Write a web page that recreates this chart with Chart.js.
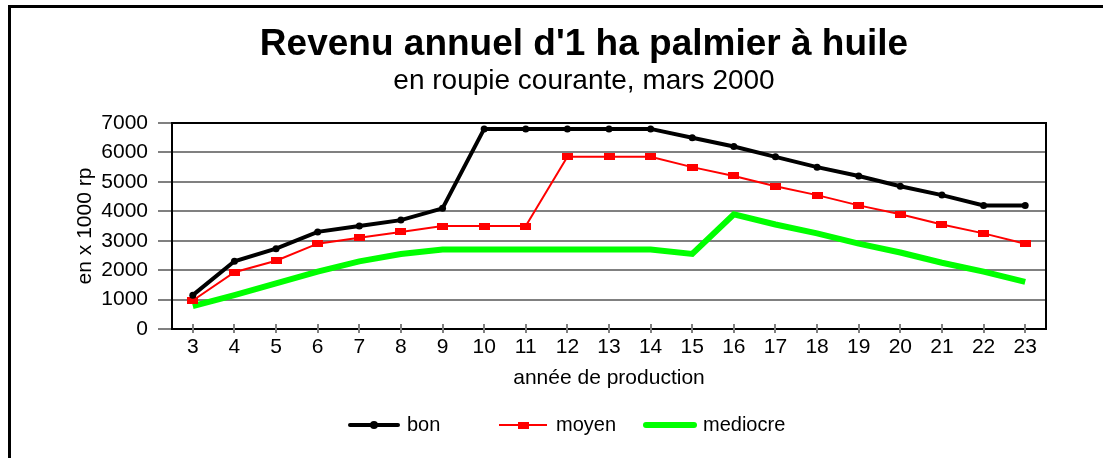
<!DOCTYPE html>
<html>
<head>
<meta charset="utf-8">
<script src="https://cdn.jsdelivr.net/npm/chart.js@4"></script>
<style>
  html, body { margin: 0; padding: 0; background: #fff; }
  #cadre {
    position: absolute; left: 8px; top: 5px; width: 1095px; height: 453px;
    border-left: 3px solid #000; border-top: 3px solid #000; box-sizing: border-box;
  }
  #revenu { position: absolute; left: 0; top: 0; }
</style>
</head>
<body>
<div id="cadre"></div>
<canvas id="revenu" width="1103" height="458"></canvas>
<script>
// années de production (axe X)
const annees = ["3", "4", "5", "6", "7", "8", "9", "10", "11", "12", "13",
  "14", "15", "16", "17", "18", "19", "20", "21", "22", "23"];

// revenu en x 1000 rp
const bon = [1150, 2300, 2730, 3300, 3500, 3700, 4100, 6800, 6800, 6800, 6800,
  6800, 6500, 6200, 5850, 5500, 5200, 4850, 4550, 4200, 4200];
const moyen = [970, 1930, 2320, 2900, 3100, 3300, 3500, 3500, 3500, 5850, 5850,
  5850, 5500, 5200, 4850, 4550, 4200, 3900, 3550, 3250, 2900];
const mediocre = [780, 1150, 1550, 1950, 2300, 2550, 2700, 2700, 2700, 2700, 2700,
  2700, 2550, 3900, 3550, 3250, 2900, 2600, 2250, 1950, 1600];

const FONT = "'Liberation Sans', Arial, sans-serif";
const GRIS = "#808080";
const TRANSP = "rgba(0,0,0,0)";

// petit rectangle rouge pour les points "moyen"
const carre = document.createElement("canvas");
carre.width = 11;
carre.height = 7;
const cctx = carre.getContext("2d");
cctx.fillStyle = "#ff0000";
cctx.fillRect(0, 0, 11, 7);

// petites graduations qui traversent les axes (tous les 500 sur Y, chaque année sur X)
const graduations = {
  id: "graduations",
  afterDraw(chart) {
    const { ctx, scales: { x, y } } = chart;
    ctx.save();
    ctx.strokeStyle = GRIS;
    ctx.lineWidth = 2;
    ctx.beginPath();
    y.ticks.forEach((t) => {
      if (t.value % 1000 !== 0) {
        const py = Math.round(y.getPixelForValue(t.value));
        ctx.moveTo(y.right - 9, py);
        ctx.lineTo(y.right + 9, py);
      }
    });
    x.ticks.forEach((t, i) => {
      const px = Math.round(x.getPixelForTick(i));
      ctx.moveTo(px, x.top - 5);
      ctx.lineTo(px, x.top + 4);
    });
    ctx.stroke();
    ctx.restore();
  }
};

// légende en bas, colonnes fixes
const legendeBas = {
  id: "legendeBas",
  afterDraw(chart) {
    const ctx = chart.ctx;
    const y = 425;
    const cols = [350, 499, 646];
    chart.data.datasets.forEach((ds, i) => {
      const x0 = cols[i];
      const x1 = x0 + 48;
      const xm = (x0 + x1) / 2;
      ctx.save();
      ctx.strokeStyle = ds.borderColor;
      ctx.lineWidth = ds.borderWidth;
      ctx.lineCap = ds.borderWidth >= 4 ? "round" : "butt";
      ctx.beginPath();
      ctx.moveTo(x0, y);
      ctx.lineTo(x1, y);
      ctx.stroke();
      if (ds.pointStyle instanceof HTMLCanvasElement) {
        ctx.drawImage(ds.pointStyle, xm - ds.pointStyle.width / 2, y - ds.pointStyle.height / 2);
      } else if (ds.pointRadius > 0) {
        ctx.fillStyle = ds.pointBackgroundColor;
        ctx.beginPath();
        ctx.arc(xm, y, ds.pointRadius + 0.5, 0, Math.PI * 2);
        ctx.fill();
      }
      ctx.fillStyle = "#000";
      ctx.font = "20px " + FONT;
      ctx.textBaseline = "middle";
      ctx.fillText(ds.label, x1 + 9, y);
      ctx.restore();
    });
  }
};

const ctx = document.getElementById("revenu").getContext("2d");

new Chart(ctx, {
  type: "line",
  data: {
    labels: annees,
    datasets: [
      {
        label: "bon",
        data: bon,
        borderColor: "#000000",
        backgroundColor: "#000000",
        borderWidth: 4,
        pointStyle: "circle",
        pointRadius: 3.5,
        pointBackgroundColor: "#000000",
        pointBorderWidth: 0,
        tension: 0
      },
      {
        label: "moyen",
        data: moyen,
        borderColor: "#ff0000",
        backgroundColor: "#ff0000",
        borderWidth: 2,
        pointStyle: carre,
        pointRadius: 5,
        tension: 0
      },
      {
        label: "mediocre",
        data: mediocre,
        borderColor: "#00ff00",
        backgroundColor: "#00ff00",
        borderWidth: 6,
        pointRadius: 0,
        tension: 0
      }
    ]
  },
  options: {
    responsive: false,
    animation: false,
    layout: { padding: { left: 65, right: 0, top: 14, bottom: 59 } },
    plugins: {
      legend: { display: false },
      tooltip: { enabled: false },
      title: {
        display: true,
        text: "Revenu annuel d'1 ha palmier à huile",
        color: "#000",
        font: { family: FONT, size: 37, weight: "bold" },
        padding: { top: 9, bottom: 0 }
      },
      subtitle: {
        display: true,
        text: "en roupie courante, mars 2000",
        color: "#000",
        font: { family: FONT, size: 28 },
        padding: { top: -3, bottom: 25 }
      }
    },
    scales: {
      x: {
        offset: true,
        grid: { drawOnChartArea: false, tickLength: 5, tickColor: TRANSP },
        border: { color: "#000", width: 2 },
        ticks: { color: "#000", font: { family: FONT, size: 21 }, padding: 1, maxRotation: 0, autoSkip: false },
        title: {
          display: true,
          text: "année de production",
          color: "#000",
          font: { family: FONT, size: 21 },
          padding: { top: 0, bottom: 8 }
        },
        afterFit: (s) => { s.height = 70; }
      },
      y: {
        min: 0,
        max: 7000,
        ticks: {
          stepSize: 500,
          color: "#000",
          font: { family: FONT, size: 21 },
          padding: 10,
          callback: (v) => (v % 1000 === 0 ? String(v) : "")
        },
        grid: {
          color: (c) => c.tick.value === 7000 ? "#000" : (c.tick.value % 1000 === 0 ? GRIS : TRANSP),
          lineWidth: 2,
          tickLength: 14,
          tickColor: (c) => (c.tick.value % 1000 === 0 ? GRIS : TRANSP),
          tickWidth: 2
        },
        border: { color: "#000", width: 2 },
        title: {
          display: true,
          text: "en x 1000 rp",
          color: "#000",
          font: { family: FONT, size: 21 },
          padding: { top: 8, bottom: 0 }
        },
        afterFit: (s) => { s.width = 107; }
      },
      y2: {
        position: "right",
        grid: { display: false },
        ticks: { display: false },
        border: { color: "#000", width: 2 },
        afterFit: (s) => { s.width = 57; }
      }
    }
  },
  plugins: [graduations, legendeBas]
});
</script>
</body>
</html>
